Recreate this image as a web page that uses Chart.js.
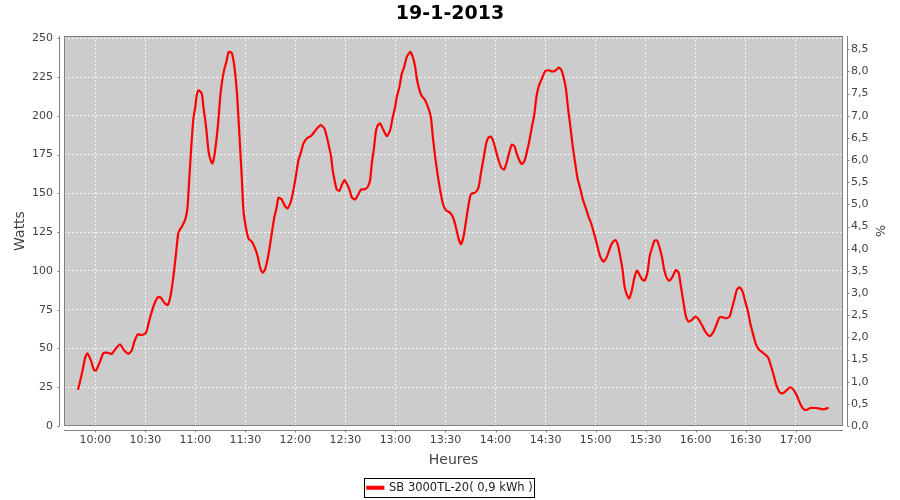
<!DOCTYPE html>
<html><head><meta charset="utf-8">
<script src="https://cdn.jsdelivr.net/npm/chart.js@4"></script>
<style>html,body{margin:0;padding:0;background:#fff}</style>
</head><body>
<canvas id="c" width="900" height="500"></canvas>
<script>
const chartTitle = '19-1-2013';
const seriesLabel = 'SB 3000TL-20( 0,9 kWh )';
const xTitle = 'Heures';
const yTitle = 'Watts';
const y2Title = '%';

// minutes since midnight
const minutes = [589.6,592.4,593.8,595.2,597.2,599.2,600.4,602.8,604.8,607.2,609.8,612.4,614.8,616.8,619.8,621.8,623.4,625.4,627.8,630.4,632.4,634.8,637.4,639.2,641.4,643.4,645.2,646.8,648.4,649.8,651.8,653.8,655.2,656.4,657.6,658.8,660.0,660.8,662.0,663.8,664.8,666.4,667.8,668.8,670.2,671.4,672.8,673.8,674.8,675.8,677.2,678.8,680.0,681.8,683.4,684.8,685.8,686.8,687.8,688.8,690.2,691.8,693.8,695.8,697.4,698.8,700.4,701.8,703.2,704.6,705.8,707.4,708.8,709.8,711.8,713.4,715.2,717.2,718.8,720.2,721.8,723.4,724.8,726.8,729.4,731.4,733.4,735.2,737.4,738.8,740.2,741.4,742.2,743.4,744.8,746.4,747.8,749.4,751.2,752.8,753.8,755.8,757.4,759.4,761.4,763.4,764.8,765.8,767.2,768.2,769.4,770.8,772.8,774.8,776.8,778.2,779.8,780.8,782.4,783.8,785.2,786.8,788.8,790.4,791.8,792.8,794.4,795.8,797.8,799.8,801.2,802.4,803.8,805.2,806.8,808.4,810.2,812.8,814.8,816.4,817.8,819.2,820.8,822.4,823.8,825.2,827.8,829.8,831.2,832.8,834.4,835.8,837.4,838.8,840.4,841.8,843.4,845.2,846.8,848.2,849.8,851.4,852.8,854.4,855.8,857.4,858.8,860.2,861.8,863.2,864.4,865.8,867.8,869.8,871.8,874.2,876.2,877.8,879.4,880.8,882.2,883.4,884.8,886.2,887.8,889.2,890.8,892.2,894.2,895.8,897.4,898.8,900.2,901.4,902.8,904.8,906.8,908.2,909.8,911.8,913.4,914.8,916.2,917.4,918.8,920.2,921.8,923.2,924.8,926.4,927.8,929.4,931.2,932.4,933.8,935.4,937.0,938.2,939.8,941.2,942.8,944.4,946.2,948.2,949.8,951.2,952.8,954.2,955.8,957.8,959.8,961.8,963.8,965.8,968.4,970.4,972.4,974.4,976.4,978.4,980.4,981.8,983.4,984.8,986.4,988.2,989.8,991.2,992.8,994.4,996.0,997.8,1000.8,1003.4,1005.2,1006.8,1008.4,1010.4,1012.4,1014.8,1016.8,1018.8,1020.8,1022.8,1024.8,1026.8,1028.8,1031.8,1033.8,1035.8,1037.8,1039.8];
const watts = [23.3,36.1,43.7,46.9,42.6,36.1,35.7,41.5,46.9,47.3,46.5,50.1,52.7,49.5,46.5,48.6,54.4,59.1,58.7,60.2,68.3,77.0,83.0,82.8,79.5,78.0,84.5,96.3,111.3,124.6,128.5,132.8,140.3,160.7,181.1,198.3,206.2,213.3,216.5,214.4,205.8,192.9,177.9,172.5,169.3,174.6,186.4,197.2,211.2,220.8,229.4,235.9,241.3,240.6,231.6,216.5,199.3,180.0,160.7,139.2,128.5,121.0,118.9,114.6,109.2,102.3,98.9,101.0,107.0,115.6,124.2,134.9,141.4,147.2,146.1,142.4,140.3,144.6,152.1,160.7,171.4,176.8,182.2,185.4,187.1,189.7,192.5,194.0,191.9,186.5,180.0,173.6,166.1,158.6,152.6,151.7,155.4,158.6,155.4,151.1,147.4,146.1,148.8,152.6,152.6,154.3,158.6,169.3,180.0,189.7,194.0,195.1,190.8,186.9,190.8,198.3,205.8,212.3,218.7,227.3,231.6,238.0,241.3,238.0,231.6,224.1,216.5,212.7,210.1,204.7,199.3,186.5,173.6,162.8,152.1,143.5,139.2,137.5,133.8,127.4,121.0,117.1,122.1,132.8,142.4,149.5,150.6,153.8,162.8,172.5,182.2,186.1,186.5,183.3,176.8,171.4,166.7,165.4,170.4,176.2,181.5,180.4,175.3,171.0,168.9,171.0,176.8,183.3,192.9,200.4,211.2,218.7,224.1,228.8,229.4,228.6,229.4,231.1,229.8,225.1,217.6,205.8,194.0,181.1,169.3,159.6,153.2,146.7,140.3,134.9,130.6,125.3,119.9,114.6,109.2,106.0,109.2,113.5,117.8,119.9,116.6,109.2,100.6,89.9,84.5,82.3,87.7,95.2,100.2,97.4,94.6,93.7,99.5,109.2,114.6,119.5,119.5,115.6,109.2,100.6,95.2,93.7,96.3,100.6,98.9,89.9,79.2,70.6,67.3,68.4,70.6,68.8,65.1,60.8,58.0,60.2,65.1,70.1,70.1,69.4,70.6,75.9,82.3,88.1,89.4,86.6,80.2,74.8,66.2,59.4,53.3,49.5,46.9,44.3,38.7,32.9,26.5,21.7,21.1,23.3,25.0,23.3,19.4,14.2,10.8,10.4,11.6,11.6,11.4,10.8,11.0,11.8];

const timeTicks = [600,630,660,690,720,750,780,810,840,870,900,930,960,990,1020];
const wattTicks = [0,25,50,75,100,125,150,175,200,225,250];
const pctTicks = [0,0.5,1,1.5,2,2.5,3,3.5,4,4.5,5,5.5,6,6.5,7,7.5,8,8.5];
const xRange = [581.2, 1048.4];
const wattRange = [0, 251.5];
const pctRange = [0, 8.8];

const fmtTime = v => { const h = Math.floor(v / 60), m = Math.round(v % 60); return String(h).padStart(2,'0') + ':' + String(m).padStart(2,'0'); };
const gridColor = 'rgba(255,255,255,0.8)';
const labelColor = '#444444';

const jfree = {
  id: 'jfree',
  beforeDraw(chart) {
    const {ctx, chartArea: a} = chart;
    ctx.save();
    ctx.fillStyle = '#ffffff';
    ctx.fillRect(0, 0, chart.width, chart.height);
    ctx.fillStyle = '#cccccc';
    ctx.fillRect(a.left, a.top, a.right - a.left, a.bottom - a.top);
    ctx.restore();
  },
  afterDraw(chart) {
    const {ctx, chartArea: a, scales} = chart;
    const gap = 4, tl = 2;
    const L = Math.round(a.left), R = Math.round(a.right), T = Math.round(a.top), B = Math.round(a.bottom);
    ctx.save();
    ctx.strokeStyle = '#808080';
    ctx.lineWidth = 1;
    ctx.strokeRect(L + 0.5, T + 0.5, R - L - 1, B - T - 1);
    ctx.beginPath();
    const lx = L - gap - 0.5;
    ctx.moveTo(lx, T); ctx.lineTo(lx, B);
    scales.y.ticks.forEach(t => { const y = Math.round(scales.y.getPixelForValue(t.value)) + 0.5; ctx.moveTo(lx - tl, y); ctx.lineTo(lx, y); });
    const by = B + gap + 0.5;
    ctx.moveTo(L, by); ctx.lineTo(R, by);
    scales.x.ticks.forEach(t => { const x = Math.round(scales.x.getPixelForValue(t.value)) + 0.5; ctx.moveTo(x, by); ctx.lineTo(x, by + tl); });
    const rx = R + gap + 0.5;
    ctx.moveTo(rx, T); ctx.lineTo(rx, B);
    scales.y2.ticks.forEach(t => { const y = Math.round(scales.y2.getPixelForValue(t.value)) + 0.5; ctx.moveTo(rx, y); ctx.lineTo(rx + tl, y); });
    ctx.stroke();
    const hb = chart.legend && chart.legend.legendHitBoxes && chart.legend.legendHitBoxes[0];
    if (hb) {
      ctx.strokeStyle = '#000000';
      ctx.strokeRect(Math.round(hb.left - 3) + 0.5, Math.round(hb.top - 4) + 0.5, Math.round(hb.width + 5), Math.round(hb.height + 7.5));
    }
    ctx.restore();
  }
};

Chart.defaults.font.family = '"DejaVu Sans", Verdana, sans-serif';

new Chart(document.getElementById('c'), {
  type: 'line',
  data: {
    datasets: [{
      label: seriesLabel,
      data: minutes.map((m, i) => ({x: m, y: watts[i]})),
      borderColor: '#ff0000',
      backgroundColor: '#ff0000',
      borderWidth: 2.2,
      pointRadius: 0,
      tension: 0.2,
      fill: false,
      yAxisID: 'y'
    }]
  },
  options: {
    responsive: false,
    animation: false,
    devicePixelRatio: 1,
    layout: {padding: {top: 0, left: 0, right: 0, bottom: -3.5}},
    plugins: {
      title: {display: true, text: chartTitle, color: '#000', font: {size: 19, weight: 'bold'}, padding: {top: 3, bottom: 10.2}},
      legend: {
        display: true, position: 'bottom',
        labels: {boxWidth: 16, boxHeight: 2, padding: 7, color: '#222', font: {size: 11.5}}
      },
      tooltip: {enabled: false}
    },
    scales: {
      x: {
        type: 'linear', min: xRange[0], max: xRange[1],
        afterBuildTicks: s => { s.ticks = timeTicks.map(v => ({value: v})); },
        afterFit: s => { s.height = 49; },
        ticks: {callback: v => fmtTime(v), autoSkip: false, maxRotation: 0, padding: 8, color: labelColor, font: {size: 11}},
        grid: {color: gridColor, lineWidth: 1, drawTicks: false},
        border: {display: false, dash: [2, 2]},
        title: {display: true, text: xTitle, color: labelColor, font: {size: 14}, padding: {top: 4, bottom: 6}}
      },
      y: {
        position: 'left', min: wattRange[0], max: wattRange[1],
        afterBuildTicks: s => { s.ticks = wattTicks.map(v => ({value: v})); },
        afterFit: s => { s.width = 64; },
        ticks: {padding: 11, color: labelColor, font: {size: 11}},
        grid: {color: gridColor, lineWidth: 1, drawTicks: false},
        border: {display: false, dash: [2, 2]},
        title: {display: true, text: yTitle, color: labelColor, font: {size: 14}, padding: {top: 12, bottom: 0}}
      },
      y2: {
        position: 'right', min: pctRange[0], max: pctRange[1], display: true,
        afterBuildTicks: s => { s.ticks = pctTicks.map(v => ({value: v})); },
        afterFit: s => { s.width = 57; },
        ticks: {padding: 8, color: labelColor, font: {size: 11}, callback: v => v.toFixed(1).replace('.', ',')},
        grid: {drawOnChartArea: false, drawTicks: false},
        border: {display: false},
        title: {display: true, text: y2Title, color: labelColor, font: {size: 13}, padding: {top: 13, bottom: 0}}
      }
    }
  },
  plugins: [jfree]
});
</script>
</body></html>
